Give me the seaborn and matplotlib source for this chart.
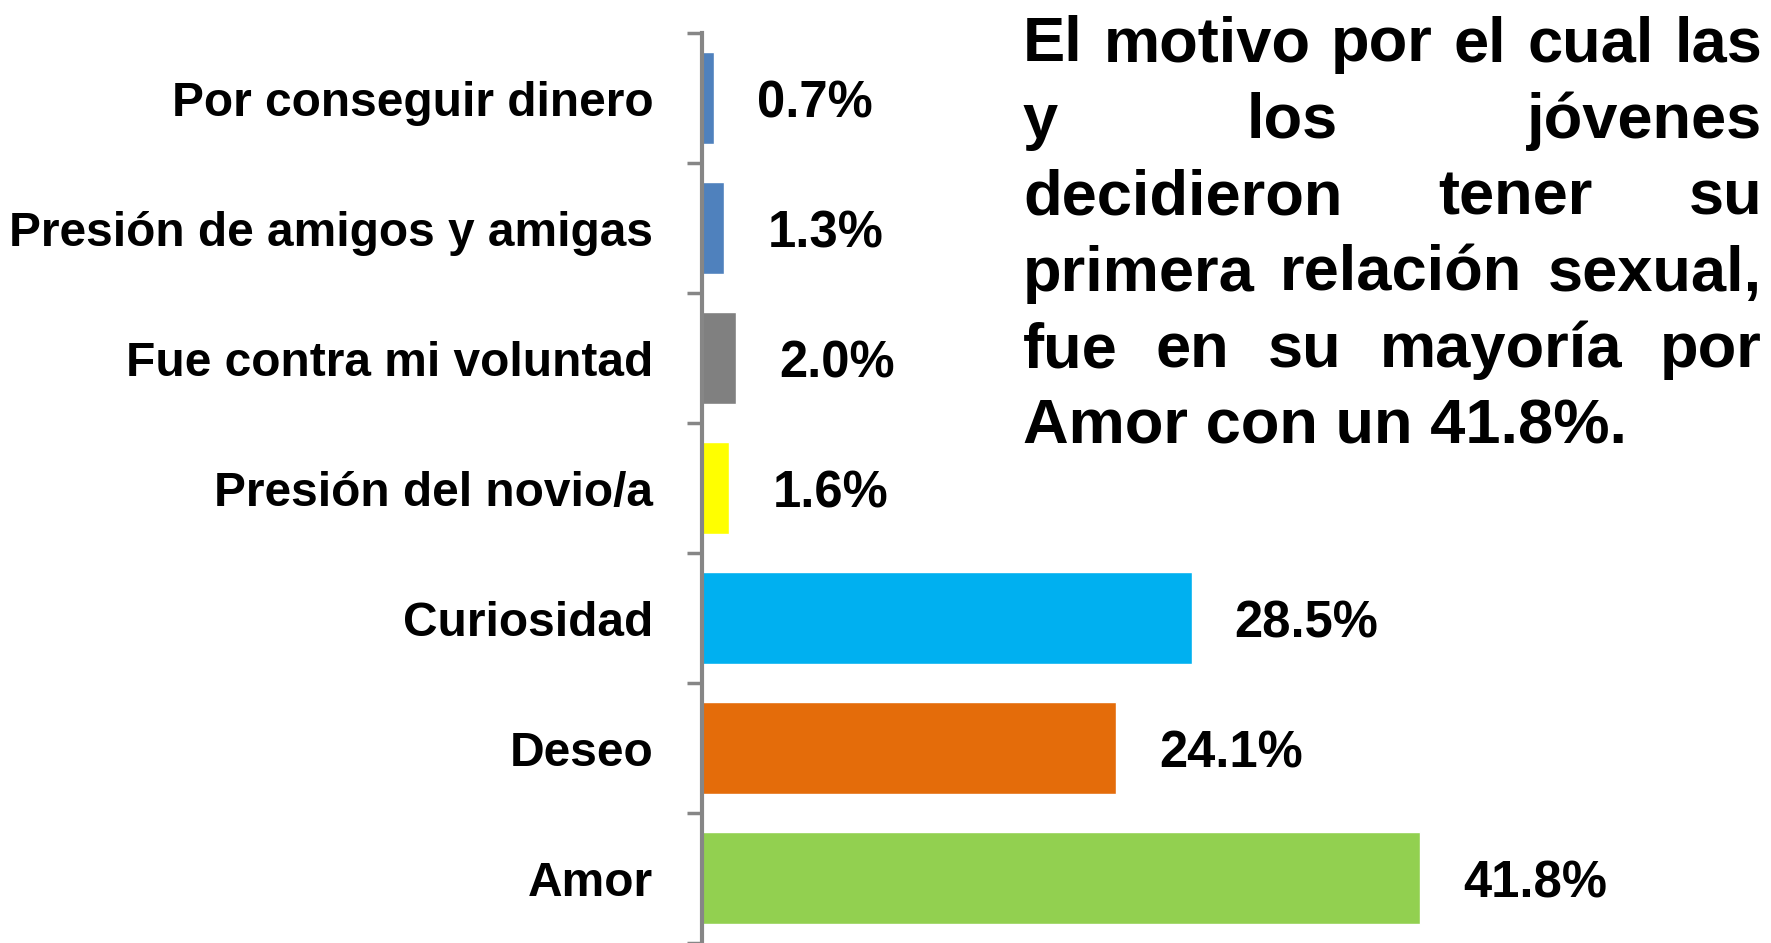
import matplotlib
matplotlib.use('Agg')
import matplotlib.pyplot as plt
import seaborn as sns

# data, top to bottom
motivos = ['Por conseguir dinero', 'Presión de amigos y amigas', 'Fue contra mi voluntad',
           'Presión del novio/a', 'Curiosidad', 'Deseo', 'Amor']
porcentajes = [0.7, 1.3, 2.0, 1.6, 28.5, 24.1, 41.8]
colores = ['#4F81BD', '#4F81BD', '#808080', '#FFFF00', '#00B0F0', '#E46C0A', '#92D050']

texto = ['El motivo por el cual las',
         'y los jóvenes',
         'decidieron tener su',
         'primera relación sexual,',
         'fue en su mayoría por',
         'Amor con un 41.8%.']

sns.set_style('white')
plt.rcParams['font.family'] = ['Liberation Sans', 'DejaVu Sans']
plt.rcParams['text.color'] = 'black'
plt.rcParams['ytick.color'] = 'black'

W, H = 1771, 943
fig = plt.figure(figsize=(W / 100, H / 100), dpi=100)
ax = fig.add_axes([702 / W, 0, (W - 702) / W, 910 / H])

sns.barplot(x=porcentajes, y=motivos, hue=motivos, palette=colores,
            orient='h', width=0.71, legend=False, saturation=1, ax=ax)

ax.set_xlim(0, (W - 702) / 17.18)
ax.set_ylim(6.5, -0.5)
for s in ['top', 'right', 'bottom']:
    ax.spines[s].set_visible(False)
ax.spines['left'].set_color('#868686')
ax.spines['left'].set_linewidth(3)
ax.set_xticks([])
ax.set_xlabel('')
ax.set_ylabel('')

# ticks at category boundaries, labels in the middle
ax.set_yticks([i - 0.5 for i in range(len(motivos) + 1)])
ax.set_yticklabels([])
ax.tick_params(axis='y', which='major', left=True, length=11, width=2.5, color='#868686')
ax.set_yticks(range(len(motivos)), minor=True)
ax.set_yticklabels(motivos, minor=True, fontsize=34.5, fontweight='bold', color='black')
ax.tick_params(axis='y', which='minor', left=True, length=0, pad=35)

for cont, v in zip(ax.containers, porcentajes):
    lbls = ax.bar_label(cont, labels=[f'{v:.1f}%'], padding=31, fontsize=36.5,
                        fontweight='bold', color='black')
    for t in lbls:
        t.set_va('center_baseline')

# justified text block on the right
fs = 45.5
left, right = 1023, 1762
base0, step = 61, 76.6
fig.canvas.draw()
r = fig.canvas.get_renderer()
for i, linea in enumerate(texto):
    y = 1 - (base0 + i * step) / H
    words = linea.split(' ')
    if i == len(texto) - 1:
        fig.text(left / W, y, linea, fontsize=fs, fontweight='bold', va='baseline')
        continue
    ts = [fig.text(0, y, w, fontsize=fs, fontweight='bold', va='baseline') for w in words]
    widths = [t.get_window_extent(r).width for t in ts]
    gap = (right - left - sum(widths)) / (len(words) - 1)
    x = left
    for t, wd in zip(ts, widths):
        t.set_x(x / W)
        x += wd + gap

fig.savefig('out.png', dpi=100)
